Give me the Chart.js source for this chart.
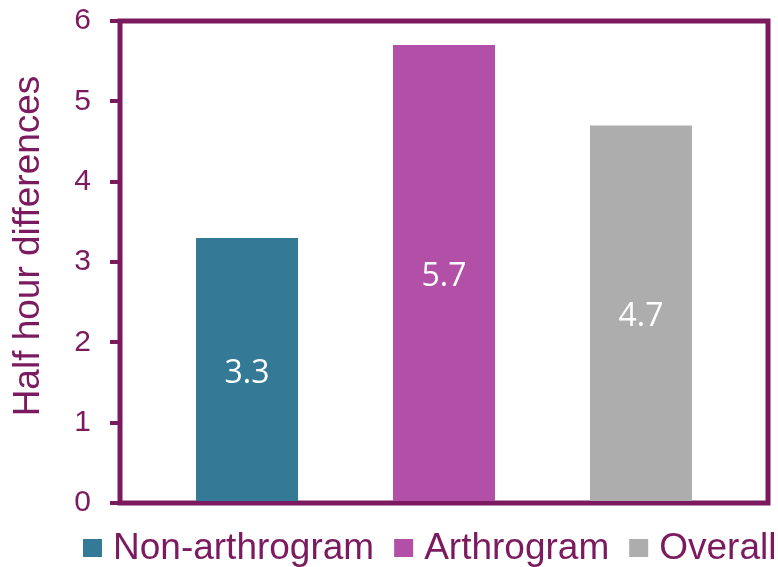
<!DOCTYPE html>
<html lang="en">
<head>
    <meta charset="UTF-8">
    <title>Half hour differences</title>
    <script src="https://cdn.jsdelivr.net/npm/chart.js@4/dist/chart.umd.min.js"></script>
    <style>
        body { margin: 0; background: #fff; }
    </style>
</head>
<body>
    <canvas id="diffChart" width="778" height="567"></canvas>
<script>
    const categories = ['Non-arthrogram', 'Arthrogram', 'Overall'];
    const values = [3.3, 5.7, 4.7];
    const colors = ['#347A96', '#B24FA6', '#ADADAD'];
    const yTicks = [0, 1, 2, 3, 4, 5, 6];
    const yTitle = 'Half hour differences';

    const purple = '#7B1A5E';
    const font = '"Liberation Sans", Arial, sans-serif';

    // outline round the whole plot area
    const frame = {
        id: 'frame',
        beforeDatasetsDraw(chart) {
            const {ctx, chartArea: a} = chart;
            ctx.save();
            ctx.strokeStyle = purple;
            ctx.lineWidth = 5;
            ctx.strokeRect(a.left, a.top, a.right - a.left, a.bottom - a.top);
            ctx.restore();
        }
    };

    // value in the middle of each bar
    const barLabels = {
        id: 'barLabels',
        afterDatasetsDraw(chart) {
            const ctx = chart.ctx;
            ctx.save();
            ctx.fillStyle = '#ffffff';
            ctx.font = '32px "Open Sans"';
            ctx.textAlign = 'center';
            ctx.textBaseline = 'middle';
            chart.data.datasets.forEach((ds, i) => {
                const bar = chart.getDatasetMeta(i).data[0];
                ctx.fillText(ds.data[0].y.toFixed(1), bar.x, (bar.y + bar.base) / 2 + 4);
            });
            ctx.restore();
        }
    };

    // y title sits a bit above the middle of the axis in the original
    const sideTitle = {
        id: 'sideTitle',
        afterDraw(chart) {
            const ctx = chart.ctx;
            ctx.save();
            ctx.translate(29, 246);
            ctx.rotate(-Math.PI / 2);
            ctx.font = '37px ' + font;
            ctx.fillStyle = purple;
            ctx.textAlign = 'center';
            ctx.textBaseline = 'middle';
            ctx.fillText(yTitle, 0, 0);
            ctx.restore();
        }
    };

    // legend under the plot, small squares close to the text
    const bottomLegend = {
        id: 'bottomLegend',
        afterDraw(chart) {
            const ctx = chart.ctx;
            ctx.save();
            ctx.font = '37px ' + font;
            ctx.textBaseline = 'middle';
            ctx.textAlign = 'left';
            let x = 83;
            const y = 548;
            chart.data.datasets.forEach(ds => {
                ctx.fillStyle = ds.backgroundColor;
                ctx.fillRect(x, y - 9, 19, 18);
                x += 30;
                ctx.fillStyle = purple;
                ctx.fillText(ds.label, x, y + 1);
                x += ctx.measureText(ds.label).width + 20;
            });
            ctx.restore();
        }
    };

    const datasets = categories.map((name, i) => ({
        label: name,
        data: [{x: i + 1, y: values[i]}],
        backgroundColor: colors[i],
        borderWidth: 0,
        barPercentage: 0.518,
        categoryPercentage: 1
    }));

    const chart = new Chart(document.getElementById('diffChart').getContext('2d'), {
        type: 'bar',
        data: { datasets: datasets },
        options: {
            responsive: false,
            animation: false,
            grouped: false,
            layout: { padding: { top: 21, right: 10, left: 0, bottom: 64 } },
            plugins: {
                tooltip: { enabled: false },
                legend: { display: false }
            },
            scales: {
                x: {
                    type: 'linear',
                    display: false,
                    offset: false,
                    min: 0.355,
                    max: 3.645,
                    afterBuildTicks(axis) {
                        axis.ticks = categories.map((c, i) => ({value: i + 1}));
                    }
                },
                y: {
                    min: 0,
                    max: 6,
                    afterBuildTicks(axis) {
                        axis.ticks = yTicks.map(v => ({value: v}));
                    },
                    afterFit(axis) {
                        axis.width = 120;
                        axis.paddingTop = 0;
                        axis.paddingBottom = 0;
                    },
                    ticks: {
                        color: purple,
                        padding: 19,
                        font: { family: font, size: 30 }
                    },
                    grid: {
                        drawOnChartArea: false,
                        drawTicks: true,
                        tickLength: 10,
                        lineWidth: 4,
                        color: purple
                    },
                    border: { display: false }
                }
            }
        },
        plugins: [frame, barLabels, sideTitle, bottomLegend]
    });
</script>
</body>
</html>
